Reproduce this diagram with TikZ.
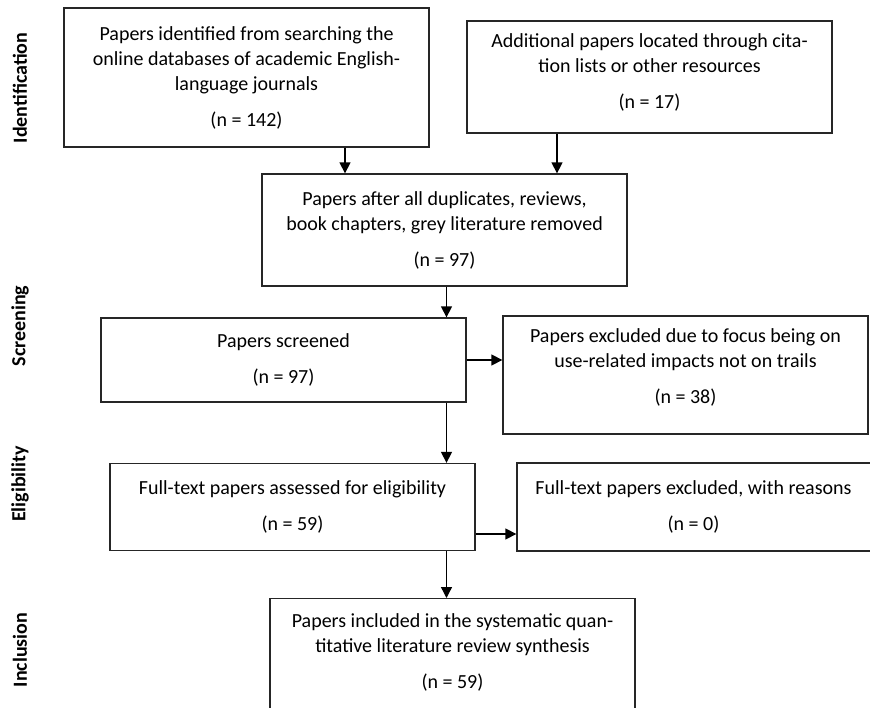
\documentclass[tikz,border=0pt]{standalone}
\usepackage{fontspec}
\setmainfont{Carlito}
\usetikzlibrary{arrows.meta,calc}
\tikzset{
  box/.style={draw=black!85, line width=1.3pt, rectangle, inner sep=0pt,
    minimum width=365pt, align=center, font=\fontsize{20}{25}\selectfont},
  arr/.style={draw=black, line width=1.4pt, -{Triangle[length=11pt,width=11pt]}},
  phase/.style={rotate=90, font=\fontsize{20}{24}\selectfont\bfseries, anchor=center},
}
\begin{document}
\begin{tikzpicture}[x=1pt,y=-1pt]
\useasboundingbox (0,0) rectangle (870,708);
% phase labels
\node[phase] (l1) at (20,88) {Identification};
\node[phase] (l2) at (20,326) {Screening};
\node[phase] (l3) at (20,484) {Eligibility};
\node[phase] (l4) at (20,650) {Inclusion};
% boxes
\node[box, minimum height=139pt] (A) at (246.5,77.5)
  {Papers identified from searching the\\online databases of academic English-\\language journals\\[11pt](n = 142)};
\node[box, minimum height=112pt] (B) at (649.5,77)
  {Additional papers located through cita-\\tion lists or other resources\\[11pt](n = 17)\\[-14pt]\mbox{}};
\node[box, minimum height=112pt] (C) at (444.5,230)
  {Papers after all duplicates, reviews,\\book chapters, grey literature removed\\[11pt](n = 97)};
\node[box, minimum height=84pt] (D) at (283.5,360)
  {Papers screened\\[11pt](n = 97)};
\node[box, minimum height=118pt] (E) at (685.5,375)
  {Papers excluded due to focus being on\\use-related impacts not on trails\\[11pt](n = 38)\\[-8pt]\mbox{}};
\node[box, minimum height=87pt] (F) at (292.5,507)
  {Full-text papers assessed for eligibility\\[11pt](n = 59)};
\node[box, minimum height=88pt] (G) at (699.5,507)
  {\hspace*{-12pt}Full-text papers excluded, with reasons\\[11pt]\hspace*{-12pt}(n = 0)};
\node[box, minimum height=140pt, anchor=north] (H) at (452.5,598)
  {Papers included in the systematic quan-\\titative literature review synthesis\\[11pt](n = 59)\\[10pt]\mbox{}};
% connectors
\draw[arr] ([xshift=98.5pt]A.south) -- ([xshift=98.5pt]A.south |- C.north);
\draw[arr] ([xshift=-92.5pt]B.south) -- ([xshift=-92.5pt]B.south |- C.north);
\draw[arr] ([xshift=2pt]C.south) -- ([xshift=2pt]C.south |- D.north);
\draw[arr] (D.east) -- (D.east -| E.west);
\draw[arr] ([xshift=2pt]C.south |- D.south) -- ([xshift=2pt]C.south |- F.north);
\draw[arr] ([yshift=-27pt]F.east) -- ([yshift=-27pt]F.east -| G.west);
\draw[arr] ([xshift=2pt]C.south |- F.south) -- ([xshift=2pt]C.south |- H.north);
\end{tikzpicture}
\end{document}
